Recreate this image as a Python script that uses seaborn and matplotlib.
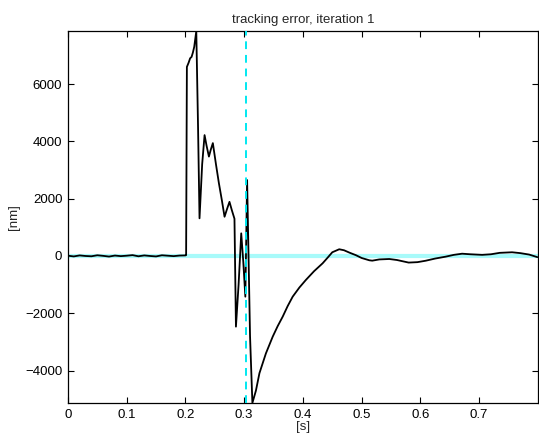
import matplotlib
matplotlib.use("Agg")
import matplotlib.pyplot as plt
import seaborn as sns
import pandas as pd

# time [s]
t = [0.000, 0.010, 0.020, 0.030, 0.040, 0.050, 0.060, 0.070, 0.080, 0.090,
     0.100, 0.110, 0.120, 0.130, 0.140, 0.150, 0.160, 0.170, 0.180, 0.190,
     0.200, 0.2012, 0.2025, 0.2055, 0.2080, 0.2105, 0.2127, 0.2150, 0.2185,
     0.2215, 0.2240, 0.2285, 0.2326, 0.2360, 0.2400, 0.2430, 0.2467,
     0.2520, 0.2570, 0.2620, 0.2666, 0.2710, 0.2750, 0.2790, 0.2835,
     0.2860, 0.2905, 0.2950, 0.2985, 0.3020, 0.3050, 0.3100, 0.3140,
     0.3200, 0.3260, 0.3370, 0.3486, 0.3570, 0.3656, 0.3740, 0.3826,
     0.3940, 0.4050, 0.4190, 0.4335, 0.4420, 0.4500, 0.4618, 0.4700,
     0.4800, 0.4900, 0.5000, 0.5130, 0.5180, 0.5300, 0.5470, 0.5600,
     0.5800, 0.5950, 0.6090, 0.6250, 0.6430, 0.6570, 0.6710, 0.6850,
     0.7050, 0.7200, 0.7350, 0.7560, 0.7700, 0.7850, 0.7990]
# tracking error [nm]
err = [10, -15, 20, 0, -10, 25, 5, -20, 15, -5,
       10, 30, -10, 20, 0, -15, 25, 10, -5, 15,
       20, 30, 6600, 6750, 6900, 6950, 7100, 7300, 7850,
       4500, 1315, 3200, 4220, 3850, 3470, 3700, 3940,
       3200, 2540, 1950, 1370, 1650, 1890, 1600, 1300,
       -2466, -1000, 790, -200, -1420, 2650, -2800, -5130,
       -4700, -4090, -3400, -2815, -2450, -2117, -1750, -1419,
       -1100, -837, -530, -256, -60, 130, 235, 200,
       110, 30, -70, -150, -163, -120, -105, -140,
       -230, -215, -165, -90, -23, 40, 80, 60,
       40, 60, 110, 130, 100, 50, -40]

vline_t = 0.303

df = pd.DataFrame({"t": t, "err": err})

sns.set_style("ticks")
plt.rcParams["font.family"] = ["Liberation Sans", "DejaVu Sans"]

fig = plt.figure(figsize=(5.39, 4.38), dpi=100)
ax = fig.add_axes([0.126, 0.080, 0.872, 0.849])

ax.axhline(0, color="#a8fafa", lw=3.0, zorder=1)
sns.lineplot(data=df, x="t", y="err", estimator=None, sort=False,
             color="black", lw=1.3, ax=ax, zorder=3)
ax.axvline(vline_t, color="#00e8f0", lw=1.4, ls=(0, (4, 3)), zorder=4)

ax.set_xlim(0, 0.8)
ax.set_ylim(-5130, 7850)
ax.set_xticks([0, 0.1, 0.2, 0.3, 0.4, 0.5, 0.6, 0.7])
ax.set_xticklabels(["0", "0.1", "0.2", "0.3", "0.4", "0.5", "0.6", "0.7"])
ax.set_yticks([-4000, -2000, 0, 2000, 4000, 6000])
ax.set_yticklabels(["\u22124000", "\u22122000", "0", "2000", "4000", "6000"])
ax.tick_params(direction="in", top=True, right=True, length=4, width=0.8,
               labelsize=9.5, colors="black", pad=4)
for s in ax.spines.values():
    s.set_linewidth(0.9)
    s.set_color("black")
ax.set_xlabel("[s]", fontsize=9.5, labelpad=0)
ax.set_ylabel("[nm]", fontsize=9.5, labelpad=4)
ax.set_title("tracking error, iteration 1", fontsize=9.5, pad=6)

fig.savefig("out.png", dpi=100)
